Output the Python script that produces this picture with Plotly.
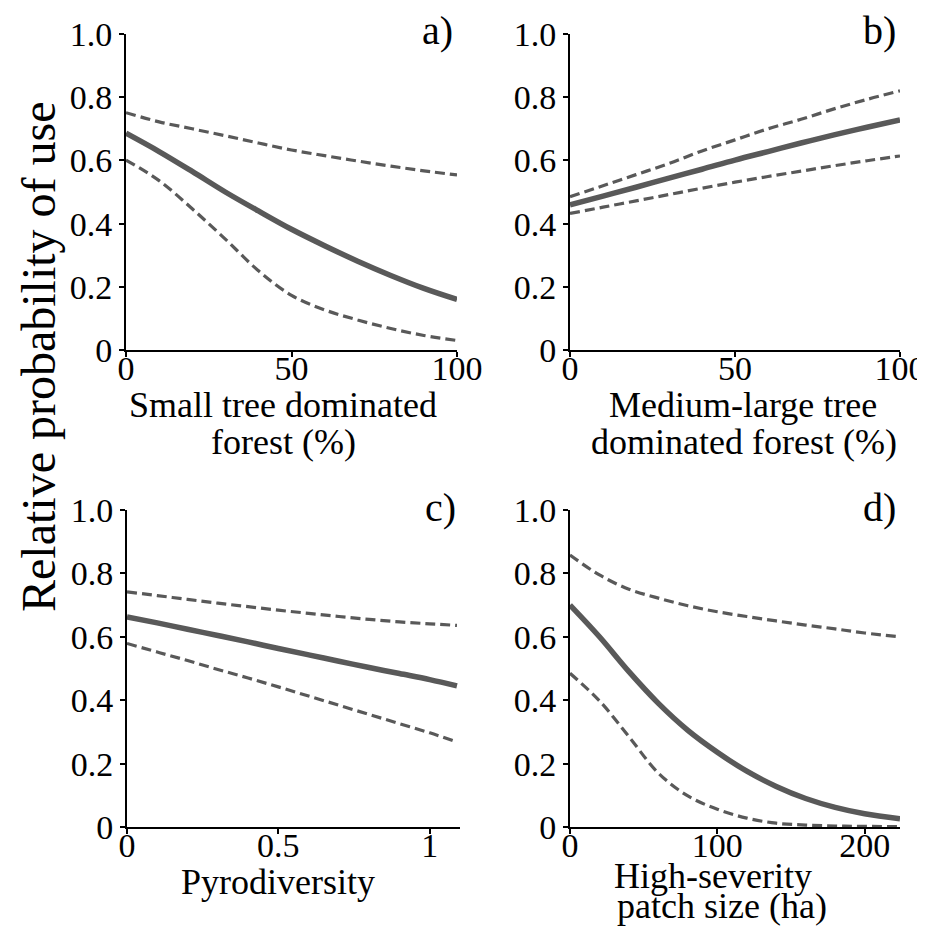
import plotly.graph_objs as go

# panel a: small tree dominated forest (%)
a_x = [0, 10, 20, 30, 40, 50, 60, 70, 80, 90, 100]
a_mean = [0.686, 0.628, 0.565, 0.500, 0.440, 0.382, 0.330, 0.281, 0.236, 0.195, 0.160]
a_upper = [0.751, 0.722, 0.700, 0.678, 0.655, 0.633, 0.615, 0.598, 0.582, 0.567, 0.554]
a_lower = [0.601, 0.536, 0.447, 0.351, 0.251, 0.173, 0.127, 0.095, 0.068, 0.046, 0.030]

# panel b: medium-large tree dominated forest (%)
b_x = [0, 10, 20, 30, 40, 50, 60, 70, 80, 90, 100]
b_mean = [0.459, 0.487, 0.515, 0.544, 0.572, 0.601, 0.628, 0.655, 0.681, 0.705, 0.728]
b_upper = [0.485, 0.520, 0.555, 0.590, 0.630, 0.665, 0.700, 0.730, 0.763, 0.793, 0.820]
b_lower = [0.432, 0.452, 0.472, 0.492, 0.512, 0.531, 0.549, 0.566, 0.583, 0.599, 0.614]

# panel c: pyrodiversity
c_x = [0, 0.1, 0.2, 0.3, 0.4, 0.5, 0.6, 0.7, 0.8, 0.9, 1.0, 1.09]
c_mean = [0.663, 0.644, 0.624, 0.604, 0.584, 0.563, 0.543, 0.523, 0.503, 0.484, 0.465, 0.445]
c_upper = [0.742, 0.730, 0.718, 0.706, 0.695, 0.684, 0.674, 0.664, 0.655, 0.647, 0.641, 0.636]
c_lower = [0.579, 0.552, 0.525, 0.497, 0.470, 0.442, 0.413, 0.384, 0.355, 0.326, 0.297, 0.268]

# panel d: high-severity patch size (ha)
d_x = [0, 20, 40, 60, 80, 100, 120, 140, 160, 180, 200, 224]
d_mean = [0.700, 0.600, 0.490, 0.390, 0.305, 0.236, 0.176, 0.128, 0.090, 0.062, 0.042, 0.026]
d_upper = [0.858, 0.795, 0.750, 0.722, 0.698, 0.679, 0.664, 0.650, 0.637, 0.625, 0.612, 0.600]
d_lower = [0.485, 0.398, 0.285, 0.170, 0.098, 0.056, 0.028, 0.012, 0.006, 0.003, 0.002, 0.001]

y_ticks = [0, 0.2, 0.4, 0.6, 0.8, 1.0]
y_ticktext = ['0', '0.2', '0.4', '0.6', '0.8', '1.0']

panels = [
    dict(x=a_x, mean=a_mean, upper=a_upper, lower=a_lower, label='a)',
         xrange=[0, 100], xticks=[0, 50, 100], xtext=['0', '50', '100'],
         xtitle=['Small tree dominated', 'forest (%)']),
    dict(x=b_x, mean=b_mean, upper=b_upper, lower=b_lower, label='b)',
         xrange=[0, 100], xticks=[0, 50, 100], xtext=['0', '50', '100'],
         xtitle=['Medium-large tree', 'dominated forest (%)']),
    dict(x=c_x, mean=c_mean, upper=c_upper, lower=c_lower, label='c)',
         xrange=[0, 1.1], xticks=[0, 0.5, 1], xtext=['0', '0.5', '1'],
         xtitle=['Pyrodiversity']),
    dict(x=d_x, mean=d_mean, upper=d_upper, lower=d_lower, label='d)',
         xrange=[0, 224], xticks=[0, 100, 200], xtext=['0', '100', '200'],
         xtitle=['High-severity', 'patch size (ha)']),
]

# the page body has an 8px margin, so the figure is 8px smaller and
# every pixel position below is shifted by OFF
OFF = 8
W, H = 925 - OFF, 926 - OFF
# plot areas in window pixels: (left, right, top, bottom)
boxes = [(126, 457, 34, 350), (570, 900, 34, 350),
         (127, 460, 510, 827), (570, 900, 510, 827)]
# centre of each axis title line, window pixels
title_pos = [[(283, 405), (283, 442)],
             [(743, 405), (744, 442)],
             [(278, 882)],
             [(713, 876), (722, 906)]]

FONT = '"Liberation Serif", "Times New Roman", Times, serif'
LINE = '#595959'


def px(x):
    return (x - OFF) / W


def py(y):
    return 1 - (y - OFF) / H


fig = go.Figure()
layout = dict(
    width=W, height=H,
    margin=dict(l=0, r=0, t=0, b=0, autoexpand=False),
    paper_bgcolor='white', plot_bgcolor='white',
    showlegend=False,
    font=dict(family=FONT, color='black', size=32),
    annotations=[],
)

for i, p in enumerate(panels):
    n = '' if i == 0 else str(i + 1)
    left, right, top, bottom = boxes[i]

    fig.add_trace(go.Scatter(
        x=p['x'], y=p['upper'], mode='lines', xaxis='x' + n, yaxis='y' + n,
        line=dict(color=LINE, width=3.2, dash='10px,5px', shape='spline')))
    fig.add_trace(go.Scatter(
        x=p['x'], y=p['lower'], mode='lines', xaxis='x' + n, yaxis='y' + n,
        line=dict(color=LINE, width=3.2, dash='10px,5px', shape='spline')))
    fig.add_trace(go.Scatter(
        x=p['x'], y=p['mean'], mode='lines', xaxis='x' + n, yaxis='y' + n,
        line=dict(color=LINE, width=5.5, shape='spline')))

    layout['xaxis' + n] = dict(
        domain=[px(left), px(right)], anchor='y' + n, range=p['xrange'],
        tickvals=p['xticks'], ticktext=p['xtext'], automargin=False,
        ticklabeloverflow='allow',
        showline=True, linecolor='black', linewidth=2,
        ticks='outside', ticklen=5, tickwidth=2, tickcolor='black',
        ticklabelstandoff=-18,
        showgrid=False, zeroline=False,
        tickfont=dict(family=FONT, size=34, color='black'))
    layout['yaxis' + n] = dict(
        domain=[py(bottom), py(top)], anchor='x' + n, range=[0, 1],
        tickvals=y_ticks, ticktext=y_ticktext, automargin=False,
        showline=True, linecolor='black', linewidth=2,
        ticks='outside', ticklen=5, tickwidth=2, tickcolor='black',
        showgrid=False, zeroline=False,
        tickfont=dict(family=FONT, size=34, color='black'))

    # panel letter
    layout['annotations'].append(dict(
        text=p['label'], xref='paper', yref='paper',
        x=px(right - 2), y=py(top - 3),
        xanchor='right', yanchor='middle', showarrow=False,
        font=dict(family=FONT, size=40, color='black')))

    # x axis title, one annotation per line
    for line_text, (tx, ty) in zip(p['xtitle'], title_pos[i]):
        layout['annotations'].append(dict(
            text=line_text, xref='paper', yref='paper',
            x=px(tx), y=py(ty), xanchor='center', yanchor='middle',
            showarrow=False,
            font=dict(family=FONT, size=36, color='black')))

# shared y title
layout['annotations'].append(dict(
    text='Relative probability of use', xref='paper', yref='paper',
    x=px(38), y=py(357), xanchor='center', yanchor='middle',
    textangle=-90, showarrow=False,
    font=dict(family=FONT, size=48, color='black')))

fig.update_layout(**layout)
fig.write_html("out.html")
